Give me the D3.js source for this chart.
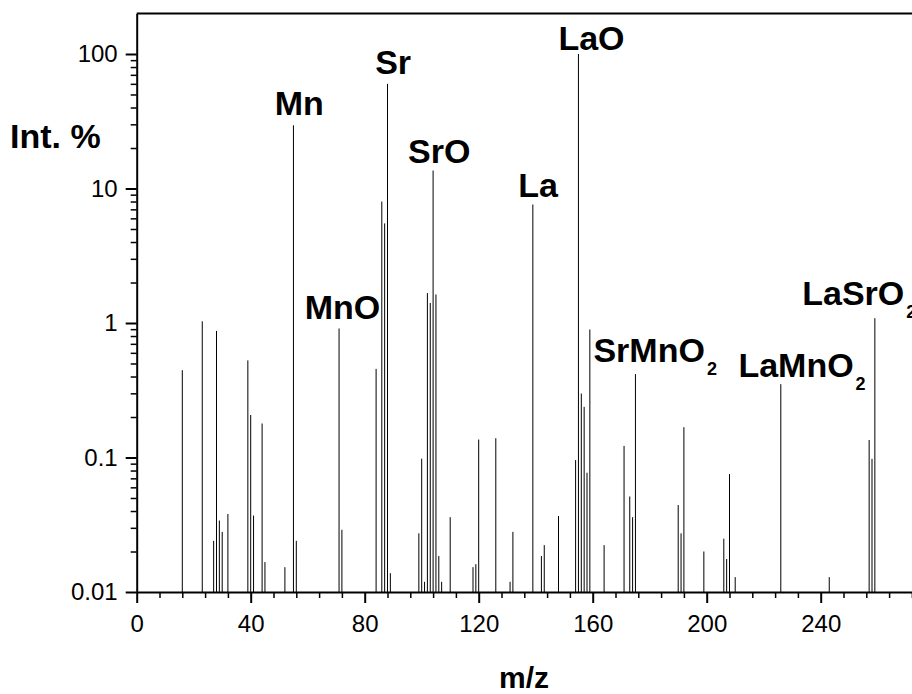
<!DOCTYPE html>
<html>
<head>
<meta charset="utf-8">
<script src="https://cdn.jsdelivr.net/npm/d3@7"></script>
<style>
  body { margin: 0; background: #fff; }
  svg { display: block; font-family: "Liberation Sans", Arial, sans-serif; }
</style>
</head>
<body>
<svg id="chart" width="912" height="694"></svg>
<script>
// masses (m/z) and intensities (%)
const masses = [16, 23, 27, 28, 29, 30, 32, 39, 40, 41, 44, 45, 52, 55, 56, 71, 72,
  84, 86, 87, 88, 89, 99, 100, 101, 102, 103, 104, 105, 106, 107, 110, 118, 119, 120,
  126, 131, 132, 139, 142, 143, 148, 154, 155, 156, 157, 158, 159, 164, 171, 173, 174,
  175, 190, 191, 192, 199, 206, 207, 208, 210, 226, 243, 257, 258, 259];
const intensities = [0.446, 1.03, 0.024, 0.873, 0.034, 0.028, 0.038, 0.527, 0.207, 0.037,
  0.179, 0.0167, 0.0153, 29.5, 0.024, 0.91, 0.029,
  0.456, 8.0, 5.5, 60, 0.0138, 0.0273, 0.098, 0.0119, 1.67, 1.41, 13.6, 1.63, 0.0185,
  0.0119, 0.036, 0.0153, 0.0161, 0.136,
  0.139, 0.0119, 0.028, 7.6, 0.0185, 0.0223, 0.0367, 0.0957, 100, 0.299, 0.238, 0.077,
  0.895, 0.0223, 0.122, 0.0513, 0.036,
  0.417, 0.0443, 0.0273, 0.168, 0.020, 0.0249, 0.0176, 0.0753, 0.0129, 0.351, 0.0129,
  0.135, 0.0977, 1.086];

// peak labels: text, subscript, mass of the labelled peak
const labelNames = ["Mn", "MnO", "Sr", "SrO", "La", "LaO", "SrMnO", "LaMnO", "LaSrO"];
const labelSubs = ["", "", "", "", "", "", "2", "2", "2"];
const labelMasses = [55, 71, 88, 104, 139, 155, 175, 226, 259];

const xTicks = [0, 40, 80, 120, 160, 200, 240];
const yTicks = [0.01, 0.1, 1, 10, 100];
const yTickLabels = ["0.01", "0.1", "1", "10", "100"];

const svg = d3.select("#chart");

// echelles (le cadre depasse a droite de la fenetre comme sur l'original)
const x0 = 136.7, xUnit = 2.85;
const x = d3.scaleLinear().domain([0, 280]).range([x0, x0 + 280 * xUnit]);
const decade = 134.5;
const y = d3.scaleLog().domain([0.01, 200]).range([592, 592 - decade * Math.log10(20000)]);

// pics
const peaks = masses.map((m, i) => ({ m, v: intensities[i] }));
svg.append("g")
  .selectAll("line")
  .data(peaks)
  .join("line")
  .attr("x1", d => x(d.m))
  .attr("x2", d => x(d.m))
  .attr("y1", y(0.01))
  .attr("y2", d => y(d.v))
  .attr("stroke", "#000")
  .attr("stroke-width", 1);

// axe x : ticks majeurs + mineurs
const xMinor = d3.range(0, 281, 8).filter(v => v % 40 !== 0);
svg.append("g")
  .attr("transform", `translate(0,${y(0.01)})`)
  .call(d3.axisBottom(x).tickValues(xMinor).tickSize(6).tickFormat(""))
  .call(g => g.select(".domain").remove())
  .call(g => g.selectAll("line").attr("stroke-width", 1.5));
svg.append("g")
  .attr("transform", `translate(0,${y(0.01)})`)
  .call(d3.axisBottom(x).tickValues(xTicks).tickSize(11).tickSizeOuter(0).tickPadding(12)
    .tickFormat(d3.format("d")))
  .call(g => g.select(".domain").attr("stroke-width", 2))
  .call(g => g.selectAll("line").attr("stroke-width", 2))
  .call(g => g.selectAll("text").attr("font-size", 24).attr("fill", "#000"));

// axe y (log) : ticks majeurs + mineurs
const yMinor = [];
[0.01, 0.1, 1, 10].forEach(dec => {
  for (let k = 2; k <= 9; k++) yMinor.push(dec * k);
});
svg.append("g")
  .attr("transform", `translate(${x0},0)`)
  .call(d3.axisLeft(y).tickValues(yMinor).tickSize(6).tickFormat(""))
  .call(g => g.select(".domain").remove())
  .call(g => g.selectAll("line").attr("stroke-width", 1.5));
svg.append("g")
  .attr("transform", `translate(${x0},0)`)
  .call(d3.axisLeft(y).tickValues(yTicks).tickSize(11).tickSizeOuter(0).tickPadding(8)
    .tickFormat((d, i) => yTickLabels[i]))
  .call(g => g.select(".domain").attr("stroke-width", 2))
  .call(g => g.selectAll("line").attr("stroke-width", 2))
  .call(g => g.selectAll("text").attr("font-size", 24).attr("fill", "#000"));

// cadre du haut
svg.append("line")
  .attr("x1", x0).attr("x2", x(280))
  .attr("y1", y(200)).attr("y2", y(200))
  .attr("stroke", "#000").attr("stroke-width", 2);

// titres des axes
svg.append("text")
  .attr("x", 524).attr("y", 688)
  .attr("text-anchor", "middle")
  .attr("font-size", 30).attr("font-weight", "bold")
  .text("m/z");
svg.append("text")
  .attr("x", 10).attr("y", 148)
  .attr("font-size", 34).attr("font-weight", "bold")
  .text("Int. %");

// etiquettes des pics, decalages par rapport au sommet du pic
const labelDx = [-18.7, -34.3, -12.3, -25, -14.7, -20, -42, -42.4, -72.6];
const labelDy = [-10, -10, -10, -7.3, -7.3, -4, -12, -7, -13];
labelNames.forEach((name, i) => {
  const m = labelMasses[i];
  const v = intensities[masses.indexOf(m)];
  const t = svg.append("text")
    .attr("x", x(m) + labelDx[i])
    .attr("y", y(v) + labelDy[i])
    .attr("font-size", 34).attr("font-weight", "bold");
  t.append("tspan").text(name);
  if (labelSubs[i]) {
    t.append("tspan").attr("font-size", 18).attr("dx", 2).attr("dy", 13).text(labelSubs[i]);
  }
});
</script>
</body>
</html>
